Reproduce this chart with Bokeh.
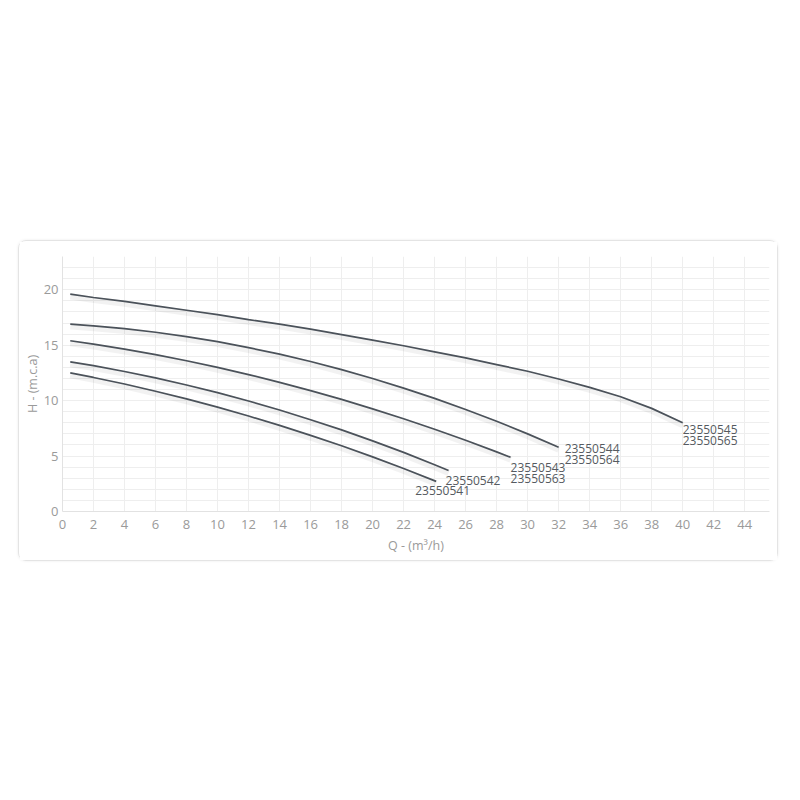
from bokeh.plotting import figure
from bokeh.models import Range1d, SingleIntervalTicker, ColumnDataSource, Spacer
from bokeh.layouts import column, row
from bokeh.core.properties import value
from bokeh.embed import file_html
from bokeh.resources import INLINE

# Pump curves: flow Q (m3/h) and head H (m.c.a)
q_545 = [0.5, 2, 4, 6, 8, 10, 12, 14, 16, 18, 20, 22, 24, 26, 28, 30, 32, 34, 36, 38, 40]
h_545 = [19.6, 19.3, 18.95, 18.55, 18.15, 17.75, 17.3, 16.9, 16.45, 15.95, 15.45,
         14.95, 14.4, 13.85, 13.25, 12.65, 11.95, 11.2, 10.35, 9.3, 8.0]
q_544 = [0.5, 2, 4, 6, 8, 10, 12, 14, 16, 18, 20, 22, 24, 26, 28, 30, 32]
h_544 = [16.9, 16.75, 16.49, 16.17, 15.78, 15.32, 14.78, 14.19, 13.53, 12.8, 12.0,
         11.13, 10.2, 9.2, 8.14, 7.0, 5.79]
q_543 = [0.5, 2, 4, 6, 8, 10, 12, 14, 16, 18, 20, 22, 24, 26, 28, 28.9]
h_543 = [15.4, 15.1, 14.65, 14.15, 13.6, 13.0, 12.35, 11.65, 10.9, 10.11, 9.26,
         8.36, 7.42, 6.42, 5.38, 4.89]
q_542 = [0.5, 2, 4, 6, 8, 10, 12, 14, 16, 18, 20, 22, 24, 24.9]
h_542 = [13.5, 13.15, 12.63, 12.05, 11.41, 10.72, 9.97, 9.16, 8.28, 7.36, 6.37,
         5.33, 4.22, 3.7]
q_541 = [0.5, 2, 4, 6, 8, 10, 12, 14, 16, 18, 20, 22, 24.1]
h_541 = [12.5, 12.09, 11.5, 10.85, 10.16, 9.41, 8.61, 7.77, 6.87, 5.93, 4.93, 3.88, 2.72]

labels_line1 = ["23550545", "23550544", "23550543", "23550542", "23550541"]
labels_line2 = ["23550565", "23550564", "23550563", "", ""]
x_ticks = list(range(0, 46, 2))
y_ticks = [0, 5, 10, 15, 20]

curves = [(q_545, h_545), (q_544, h_544), (q_543, h_543), (q_542, h_542), (q_541, h_541)]
label_dx = [0, 6, 0, -3, -21]
label_dy = [7, 1, 10, 10, 9]
LINE_GAP = 11

LINE = "#4b525a"
TICK = "#9a9a9a"

p = figure(width=760, height=321, output_backend="svg", toolbar_location=None,
           x_range=Range1d(0, 45.6), y_range=Range1d(0, 23),
           min_border_left=43, min_border_right=10, min_border_top=15,
           min_border_bottom=51)
p.styles = {"border": "1px solid #e4e4e4", "border-radius": "8px",
            "box-shadow": "0 0 3px rgba(0,0,0,0.08)"}
p.outline_line_color = None
p.background_fill_color = "white"
p.border_fill_color = "white"

p.xaxis.ticker = x_ticks
p.yaxis.ticker = y_ticks
p.xgrid.ticker = SingleIntervalTicker(interval=2)
p.ygrid.ticker = SingleIntervalTicker(interval=1)
p.xgrid.grid_line_color = "#eeeeee"
p.ygrid.grid_line_color = "#eeeeee"

for ax in (p.xaxis[0], p.yaxis[0]):
    ax.axis_line_color = "#e2e2e2"
    ax.axis_line_width = 1
    ax.major_tick_line_color = None
    ax.minor_tick_line_color = None
    ax.major_tick_out = 0
    ax.major_tick_in = 0
    ax.minor_tick_out = 0
    ax.minor_tick_in = 0
    ax.major_label_text_font = "Open Sans"
    ax.major_label_text_font_size = "13px"
    ax.major_label_text_color = TICK
    ax.axis_label_text_font = "Open Sans"
    ax.axis_label_text_font_size = "12.5px"
    ax.axis_label_text_font_style = "normal"
    ax.axis_label_text_color = TICK

p.xaxis.axis_label = "Q - (m³/h)"
p.yaxis.axis_label = "H - (m.c.a)"
p.xaxis.major_label_standoff = 8
p.xaxis.axis_label_standoff = 5
p.yaxis.major_label_standoff = 4
p.yaxis.axis_label_standoff = 0

end_x, end_y = [], []
for q, h in curves:
    shadow = [v - 0.22 for v in h]
    p.line(q, shadow, line_color="#000000", line_alpha=0.05, line_width=6)
    p.line(q, h, line_color=LINE, line_width=1.7)
    end_x.append(q[-1])
    end_y.append(h[-1])

src = ColumnDataSource(dict(x=end_x, y=end_y, t1=labels_line1, t2=labels_line2,
                            dx=label_dx, dy=label_dy,
                            dy2=[d + LINE_GAP for d in label_dy]))
for col, off in (("t1", "dy"), ("t2", "dy2")):
    p.text(x="x", y="y", text=col, x_offset="dx", y_offset=off, source=src,
           text_font=value("Open Sans"), text_font_size="12px", text_color="#555a60",
           text_align="left", text_baseline="middle")

layout = column(Spacer(height=240), row(Spacer(width=18), p))
open("out.html", "w").write(file_html(layout, INLINE))
